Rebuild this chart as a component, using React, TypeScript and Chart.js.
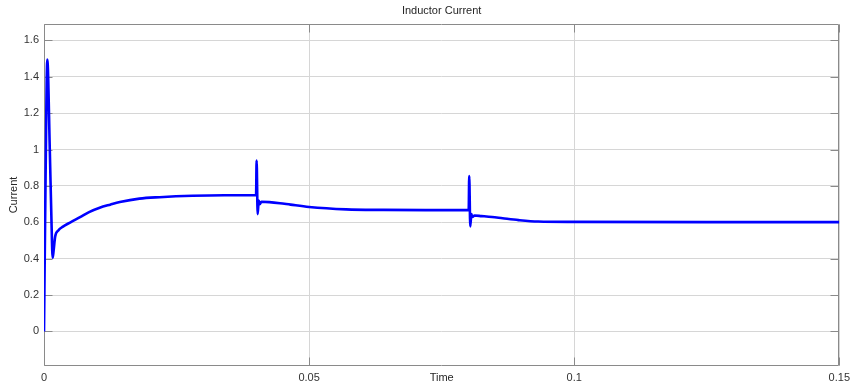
import React, { useEffect, useRef } from "react";
import { Chart, registerables } from "chart.js";

Chart.register(...registerables);

const chartTitle = "Inductor Current";
const xAxisTitle = "Time";
const yAxisTitle = "Current";

const timeValues = [
  0, 0.0003, 0.00062, 0.0011, 0.0014, 0.00163, 0.0018, 0.0021, 0.0027, 0.0035,
  0.005, 0.0068, 0.0085, 0.0105, 0.0125, 0.0143, 0.018, 0.0218, 0.028, 0.034,
  0.04, 0.0401, 0.0403, 0.0405, 0.0407, 0.041, 0.0425, 0.0445, 0.0465, 0.05,
  0.057, 0.064, 0.072, 0.0801, 0.0802, 0.0804, 0.0806, 0.0808, 0.0812, 0.0825,
  0.0845, 0.0865, 0.0895, 0.0932, 0.1, 0.125, 0.15,
];

const currentValues = [
  0, 0.85, 1.495, 0.99, 0.62, 0.405, 0.44, 0.52, 0.555, 0.575,
  0.6, 0.628, 0.656, 0.68, 0.697, 0.711, 0.73, 0.738, 0.746, 0.749,
  0.75, 0.94, 0.645, 0.72, 0.7, 0.713, 0.711, 0.705, 0.697, 0.684,
  0.671, 0.668, 0.667, 0.667, 0.854, 0.577, 0.645, 0.63, 0.637, 0.634,
  0.629, 0.622, 0.612, 0.604, 0.602, 0.601, 0.601,
];

const xTickValues = [0, 0.05, 0.1, 0.15];
const xTickLabels = ["0", "0.05", "0.1", "0.15"];
const yTickValues = [0, 0.2, 0.4, 0.6, 0.8, 1, 1.2, 1.4, 1.6];
const yTickLabels = ["0", "0.2", "0.4", "0.6", "0.8", "1", "1.2", "1.4", "1.6"];

const FONT = '"Liberation Sans", Arial, Helvetica, sans-serif';

const framePlugin = {
  id: "matlabFrame",
  beforeDatasetsDraw(chart: any) {
    const { ctx, chartArea: a, scales } = chart;
    const L = Math.round(a.left) + 0.5;
    const R = Math.round(a.right) - 0.5;
    const T = Math.round(a.top) + 0.5;
    const B = Math.round(a.bottom) - 0.5;
    const tl = 8;
    ctx.save();
    ctx.strokeStyle = "#8a8a8a";
    ctx.lineWidth = 1;
    ctx.beginPath();
    ctx.rect(L, T, R - L, B - T);
    yTickValues.forEach((v) => {
      const y = Math.round(scales.y.getPixelForValue(v)) + 0.5;
      ctx.moveTo(L, y);
      ctx.lineTo(L + tl, y);
      ctx.moveTo(R, y);
      ctx.lineTo(R - tl, y);
    });
    xTickValues.forEach((v) => {
      const x = Math.round(scales.x.getPixelForValue(v)) + 0.5;
      ctx.moveTo(x, B);
      ctx.lineTo(x, B - tl);
      ctx.moveTo(x, T);
      ctx.lineTo(x, T + tl);
    });
    ctx.stroke();
    ctx.restore();
  },
};

export default function App() {
  const canvasRef = useRef<HTMLCanvasElement | null>(null);

  useEffect(() => {
    if (!canvasRef.current) return;
    const points = timeValues.map((t, i) => ({ x: t, y: currentValues[i] }));
    const chart = new Chart(canvasRef.current, {
      type: "line",
      data: {
        datasets: [
          {
            label: yAxisTitle,
            data: points,
            borderColor: "#0000ff",
            backgroundColor: "#0000ff",
            borderWidth: 2.6,
            pointRadius: 0,
            cubicInterpolationMode: "monotone",
            fill: false,
          },
        ],
      },
      options: {
        animation: false,
        responsive: true,
        maintainAspectRatio: false,
        layout: { padding: { left: 0, right: 12, top: 0, bottom: 0 } },
        plugins: {
          legend: { display: false },
          tooltip: { enabled: false },
          title: {
            display: true,
            text: chartTitle,
            fullSize: false,
            color: "#262626",
            font: { family: FONT, size: 11, weight: "normal" as any, lineHeight: 1.2 },
            padding: { top: 4, bottom: 6.8 },
          },
        },
        scales: {
          x: {
            type: "linear",
            min: 0,
            max: 0.15,
            afterBuildTicks: (scale: any) => {
              scale.ticks = xTickValues.map((v) => ({ value: v }));
            },
            afterFit: (scale: any) => {
              scale.height = 22;
            },
            ticks: {
              autoSkip: false,
              maxRotation: 0,
              padding: 5,
              color: "#333333",
              font: { family: FONT, size: 11 },
              callback: (value: any) => {
                const i = xTickValues.findIndex((v) => Math.abs(v - value) < 1e-9);
                return i >= 0 ? xTickLabels[i] : "";
              },
            },
            grid: { color: "#d6d6d6", lineWidth: 1, drawTicks: false },
            border: { display: false },
            title: {
              display: true,
              text: xAxisTitle,
              color: "#262626",
              font: { family: FONT, size: 11, lineHeight: 1.2 },
              padding: { top: 0, bottom: 3.5 },
            },
          },
          y: {
            type: "linear",
            min: -0.19,
            max: 1.69,
            afterBuildTicks: (scale: any) => {
              scale.ticks = yTickValues.map((v) => ({ value: v }));
            },
            afterFit: (scale: any) => {
              scale.width = 44;
            },
            ticks: {
              autoSkip: false,
              padding: 5,
              color: "#333333",
              font: { family: FONT, size: 11 },
              callback: (value: any) => {
                const i = yTickValues.findIndex((v) => Math.abs(v - value) < 1e-9);
                return i >= 0 ? yTickLabels[i] : "";
              },
            },
            grid: { color: "#d6d6d6", lineWidth: 1, drawTicks: false },
            border: { display: false },
            title: {
              display: true,
              text: yAxisTitle,
              color: "#262626",
              font: { family: FONT, size: 11, lineHeight: 1.2 },
              padding: { top: 7.5, bottom: 0 },
            },
          },
        },
      },
      plugins: [framePlugin],
    });
    return () => chart.destroy();
  }, []);

  return (
    <div
      style={{
        position: "absolute",
        left: 0,
        top: 0,
        width: 855,
        height: 388,
        background: "#ffffff",
      }}
    >
      <canvas ref={canvasRef} />
    </div>
  );
}
